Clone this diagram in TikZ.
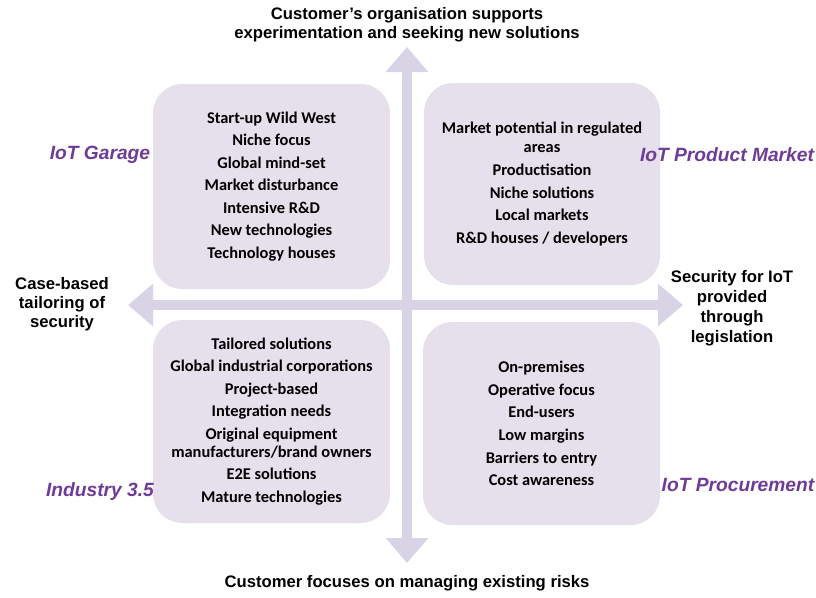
\documentclass[tikz,border=0pt]{standalone}
\usepackage{fontspec}
\usetikzlibrary{arrows.meta}
\newfontfamily\boxfont{Carlito}
\newfontfamily\axfont{Liberation Sans}
\definecolor{boxfill}{HTML}{E6E0EC}
\definecolor{axiscol}{HTML}{D8D4E6}
\definecolor{quadcol}{HTML}{6E3B96}
\tikzset{
  box/.style={draw=none, fill=boxfill, rounded corners=22pt, align=center, inner sep=0pt,
    font=\boxfont\bfseries\fontsize{12.3}{16.9}\selectfont, text=black},
  axis/.style={draw=axiscol, line width=7.5pt, {Triangle[length=18.75pt,width=30.75pt]}-{Triangle[length=18.75pt,width=30.75pt]}},
  axlabel/.style={align=center, font=\axfont\bfseries\fontsize{12.5}{14.25}\selectfont, text=black, inner sep=0pt},
  quad/.style={font=\axfont\bfseries\itshape\fontsize{14.4}{16}\selectfont, text=quadcol, inner sep=0pt}
}
\begin{document}
\begin{tikzpicture}[x=0.75pt,y=-0.75pt]
\useasboundingbox (0,0) rectangle (816,597);
% axes end points
\coordinate (ntip) at (407,47);
\coordinate (stip) at (407,563);
\coordinate (wtip) at (128,305);
\coordinate (etip) at (683,305);
\draw[axis] (stip) -- (ntip);
\draw[axis] (wtip) -- (etip);
% quadrant boxes
\node[box, minimum width=177.75pt, minimum height=153.75pt] (tl) at (271.5,186.5)
  {Start-up Wild West\\ Niche focus\\ Global mind-set\\ Market disturbance\\ Intensive R\&D\\ New technologies\\ Technology houses};
\node[box, minimum width=177pt, minimum height=151.5pt] (tr) at (542,184)
  {Market potential in regulated\\[-2.6pt] areas\\ Productisation\\ Niche solutions\\ Local markets\\ R\&D houses / developers};
\node[box, minimum width=177.75pt, minimum height=152.25pt] (bl) at (271.5,421.5)
  {Tailored solutions\\ Global industrial corporations\\ Project-based\\ Integration needs\\ Original equipment\\[-3.4pt] manufacturers/brand owners\\ E2E solutions\\ Mature technologies};
\node[box, minimum width=177.75pt, minimum height=152.25pt] (br) at (541.5,423.5)
  {On-premises\\ Operative focus\\ End-users\\ Low margins\\ Barriers to entry\\ Cost awareness};
% axis labels
\node[axlabel] (toplab) at (407,25) {Customer’s organisation supports\\ experimentation and seeking new solutions};
\node[axlabel] (botlab) at (407,583) {Customer focuses on managing existing risks};
\node[axlabel] (leftlab) at (62,304) {Case-based\\ tailoring of\\ security};
\node[axlabel, font=\axfont\bfseries\fontsize{12.5}{15}\selectfont] (rightlab) at (732,308) {Security for IoT\\ provided\\ through\\ legislation};
% quadrant names
\node[quad] (garage) at (100,155) {IoT Garage};
\node[quad] (product) at (727,155) {IoT Product Market};
\node[quad] (industry) at (100,492) {Industry 3.5};
\node[quad] (procure) at (738,485) {IoT Procurement};
\end{tikzpicture}
\end{document}
